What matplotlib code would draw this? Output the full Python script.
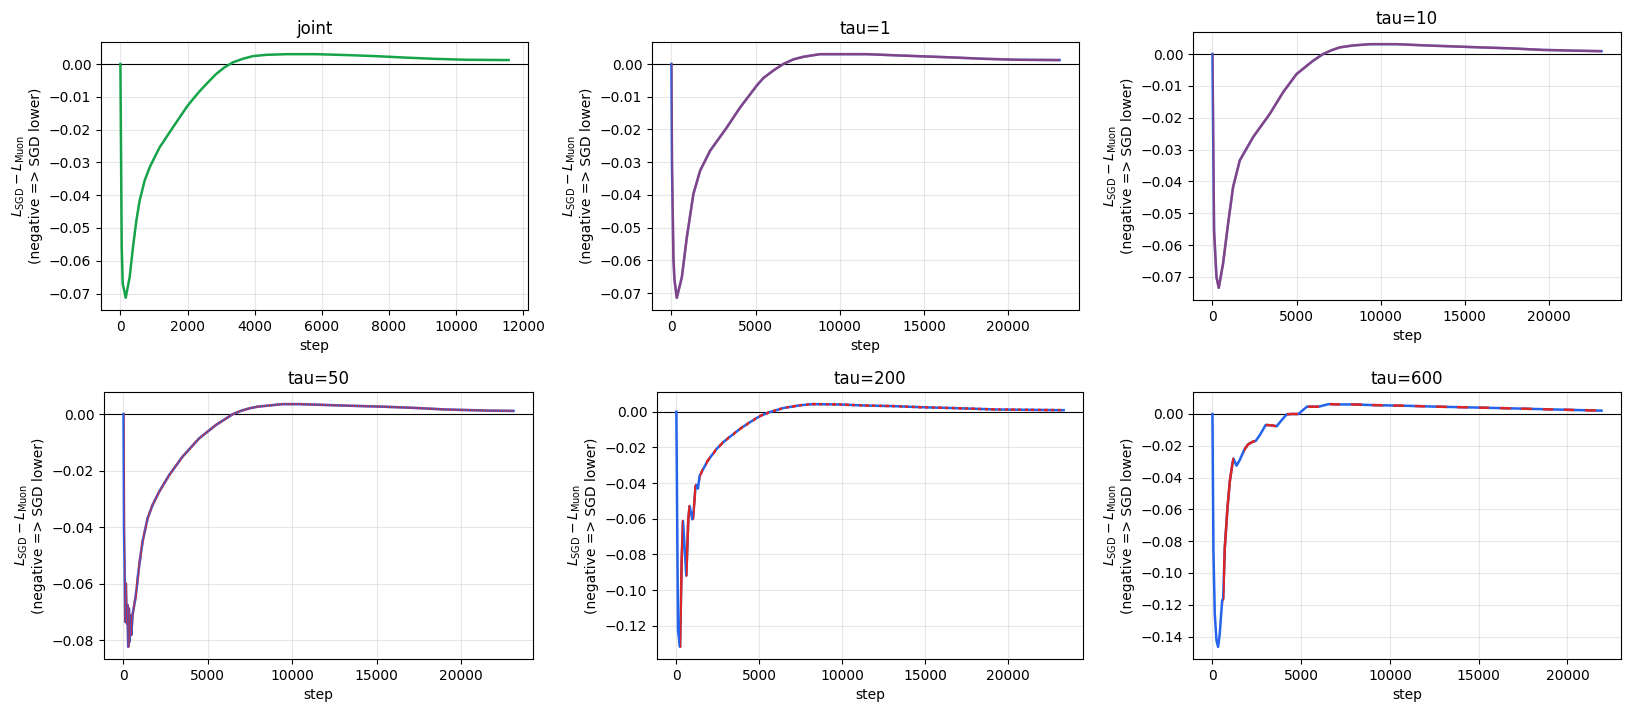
import matplotlib
matplotlib.use("Agg")
import matplotlib.pyplot as plt
from matplotlib.path import Path

# ---------------- data ----------------
titles = ["joint", "tau=1", "tau=10", "tau=50", "tau=200", "tau=600"]
taus = [None, 1, 10, 50, 200, 600]

joint_step = [0, 39, 69, 158, 277, 375, 476, 574, 723, 872, 1021, 1169, 1565, 1982, 2161,
              2360, 2607, 2856, 3103, 3350, 3649, 3946, 4344, 4939, 5832, 6823, 7617, 8410,
              9301, 10294, 11563]
joint_val = [0.0, -0.0558, -0.0670, -0.0713, -0.0649, -0.0558, -0.0477, -0.0416, -0.0355,
             -0.0315, -0.0284, -0.0254, -0.0193, -0.0130, -0.0107, -0.0083, -0.0056,
             -0.0030, -0.0010, 0.0005, 0.0016, 0.0024, 0.0028, 0.0030, 0.0030, 0.0027,
             0.0024, 0.0020, 0.0016, 0.0013, 0.0012]

tau1_step = [0, 33, 119, 178, 318, 617, 914, 1306, 1703, 2297, 3288, 4077, 5068, 5460,
             6053, 6647, 7240, 7834, 8825, 11596, 13572, 15157, 16736, 18516, 20498, 23060]
tau1_val = [0.0, -0.0306, -0.0591, -0.0657, -0.0714, -0.0652, -0.0530, -0.0397, -0.0326,
            -0.0265, -0.0194, -0.0133, -0.0066, -0.0043, -0.0020, 0.0000, 0.0014, 0.0022,
            0.0030, 0.0030, 0.0026, 0.0023, 0.0020, 0.0016, 0.0013, 0.0012]

tau10_step = [0, 40, 95, 238, 375, 630, 928, 1225, 1624, 2415, 3408, 4199, 4996, 5983,
              6578, 7077, 7571, 8362, 9355, 10943, 12727, 14309, 15897, 17681, 19661,
              21249, 23134]
tau10_val = [0.0, -0.0240, -0.0554, -0.0700, -0.0734, -0.0658, -0.0533, -0.0418, -0.0334,
             -0.0261, -0.0188, -0.0120, -0.0063, -0.0021, 0.0000, 0.0012, 0.0021, 0.0027,
             0.0031, 0.0031, 0.0027, 0.0024, 0.0021, 0.0018, 0.0013, 0.0011, 0.0009]

tau50_step = [0, 30, 60, 100, 140, 200, 240, 280, 320, 360, 400, 460, 535, 733, 931, 1128,
              1425, 1721, 2116, 2709, 3498, 4487, 5475, 6463, 6950, 7451, 7950, 8441, 9425,
              10415, 11997, 13576, 15353, 17133, 19109, 21677, 23118]
tau50_val = [0.0, -0.0405, -0.0520, -0.0735, -0.0600, -0.0741, -0.0676, -0.0824, -0.0688,
             -0.0806, -0.0712, -0.0782, -0.0712, -0.0641, -0.0535, -0.0452, -0.0370,
             -0.0322, -0.0275, -0.0216, -0.0151, -0.0086, -0.0039, -0.0001, 0.0011, 0.0020,
             0.0026, 0.0029, 0.0035, 0.0035, 0.0032, 0.0029, 0.0026, 0.0022, 0.0016,
             0.0012, 0.0011]

tau200_step = [0, 100, 220, 320, 400, 600, 720, 800, 960, 1000, 1160, 1200, 1300, 1400,
               1600, 1860, 2160, 2470, 2870, 3370, 3880, 4480, 5080, 5690, 6490, 7500,
               8240, 9850, 11460, 13060, 14670, 16680, 19300, 23360]
tau200_val = [0.0, -0.1226, -0.1319, -0.0836, -0.0613, -0.0919, -0.0603, -0.0529, -0.0603,
              -0.0600, -0.0418, -0.0410, -0.0431, -0.0360, -0.0325, -0.0279, -0.0241,
              -0.0204, -0.0167, -0.0130, -0.0093, -0.0056, -0.0022, 0.0000, 0.0022, 0.0037,
              0.0043, 0.0041, 0.0035, 0.0032, 0.0026, 0.0021, 0.0013, 0.0009]

tau600_step = [0, 55, 130, 225, 319, 413, 545, 602, 696, 847, 979, 1130, 1187, 1357, 1545,
               1791, 2017, 2300, 2432, 2678, 2999, 3300, 3621, 3904, 4187, 4470, 4846,
               5320, 5980, 6545, 7301, 8056, 8999, 10790, 12680, 15511, 18341, 21925]
tau600_val = [0.0, -0.0861, -0.1256, -0.1423, -0.1465, -0.1381, -0.1173, -0.1163, -0.0840,
              -0.0590, -0.0423, -0.0309, -0.0281, -0.0325, -0.0288, -0.0225, -0.0190,
              -0.0173, -0.0170, -0.0131, -0.0069, -0.0071, -0.0077, -0.0038, -0.0002,
              0.0000, 0.0000, 0.0046, 0.0046, 0.0062, 0.0060, 0.0060, 0.0056, 0.0052,
              0.0046, 0.0039, 0.0031, 0.0021]

series = [(joint_step, joint_val), (tau1_step, tau1_val), (tau10_step, tau10_val),
          (tau50_step, tau50_val), (tau200_step, tau200_val), (tau600_step, tau600_val)]

# ---------------- style / layout ----------------
GREEN = "#16a34a"
BLUE = "#2563eb"
RED = "#dc2626"
LW = 1.8

W, H = 1640, 712
# axes boxes in pixels: (x0, x1, ytop, ybottom)
boxes = [(101, 528, 42, 310), (652, 1079, 42, 310), (1193, 1621, 32, 300),
         (104, 533, 392, 659), (657, 1083, 392, 659), (1193, 1621, 392, 659)]

fig = plt.figure(figsize=(W / 100, H / 100), dpi=100)

ylabel = r"$L_{\mathrm{SGD}} - L_{\mathrm{Muon}}$" + "\n(negative => SGD lower)"


def block_clip(tau, xmax):
    verts, codes = [], []
    k = 1
    while k * tau < xmax:
        x0, x1 = k * tau, (k + 1) * tau
        verts += [(x0, -1.0), (x1, -1.0), (x1, 1.0), (x0, 1.0), (x0, -1.0)]
        codes += [Path.MOVETO, Path.LINETO, Path.LINETO, Path.LINETO, Path.CLOSEPOLY]
        k += 2
    return Path(verts, codes)


for i, (box, title, tau, (xs, ys)) in enumerate(zip(boxes, titles, taus, series)):
    x0, x1, yt, yb = box
    ax = fig.add_axes([x0 / W, (H - yb) / H, (x1 - x0) / W, (yb - yt) / H])
    ax.grid(True, alpha=0.3)
    ax.axhline(0, color="black", lw=0.8, zorder=1.8, snap=True)
    if tau is None:
        ax.plot(xs, ys, color=GREEN, lw=LW, zorder=2)
    else:
        ax.plot(xs, ys, color=BLUE, lw=LW, zorder=2)
        (red,) = ax.plot(xs, ys, color=RED, lw=LW, zorder=3)
        red.set_clip_path(block_clip(tau, max(xs)), ax.transData)
    ax.set_title(title)
    ax.set_xlabel("step")
    ax.set_ylabel(ylabel)

fig.savefig("out.png", dpi=100)
